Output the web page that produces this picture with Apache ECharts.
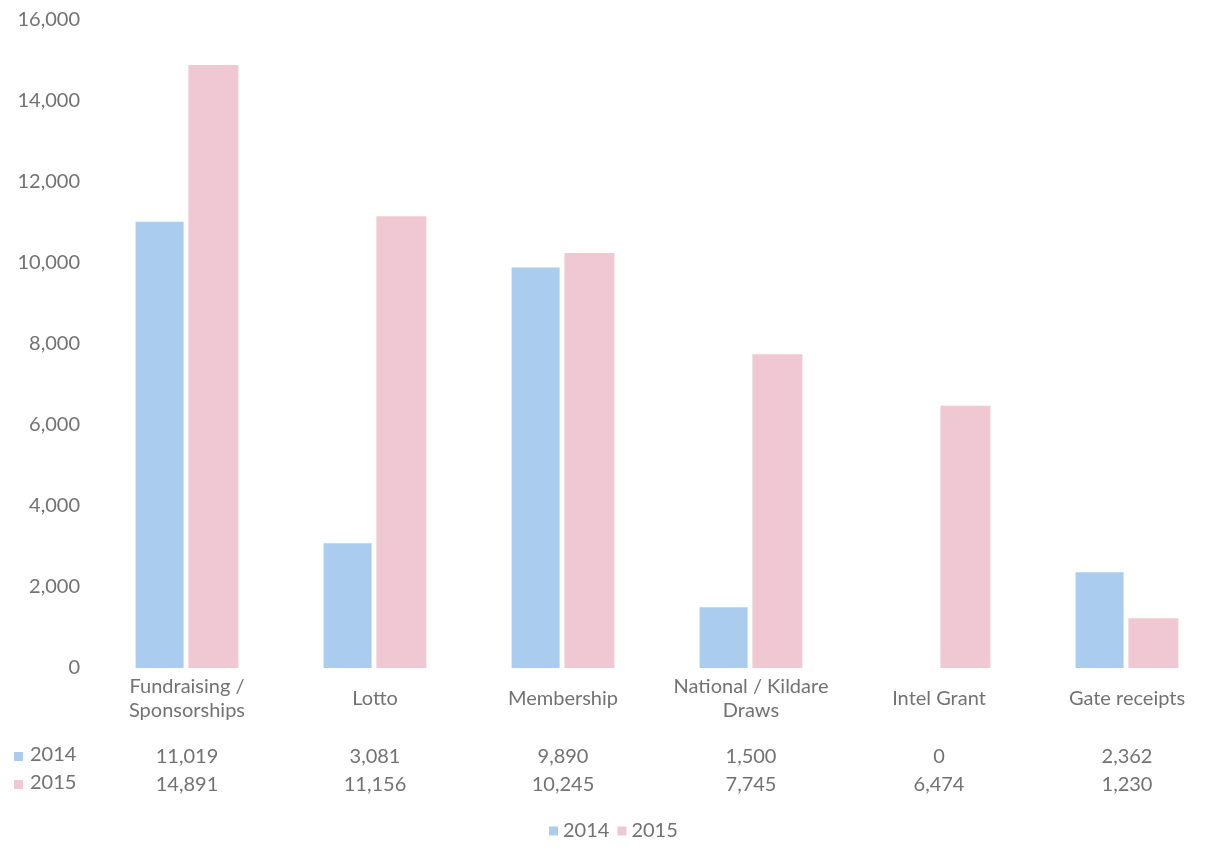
<!DOCTYPE html>
<html>
<head>
<meta charset="utf-8">
<script src="https://cdn.jsdelivr.net/npm/echarts@6/dist/echarts.min.js"></script>
<style>html,body{margin:0;padding:0;background:#fff;overflow:hidden;}#c{width:1221px;height:864px;}</style>
</head>
<body>
<div id="c"></div>
<script>
const categories = ['Fundraising /\nSponsorships', 'Lotto', 'Membership', 'National / Kildare\nDraws', 'Intel Grant', 'Gate receipts'];
const seriesNames = ['2014', '2015'];
const values2014 = [11019, 3081, 9890, 1500, 0, 2362];
const values2015 = [14891, 11156, 10245, 7745, 6474, 1230];
const yTicks = { min: 0, max: 16000, interval: 2000 };

const BLUE = '#aacdef';
const PINK = '#f0c8d4';
const TXT = '#727272';
const FONT = 'Lato';
const FS = 20;
const fmt = v => v.toLocaleString('en-US');

const chart = echarts.init(document.getElementById('c'));
const baseX = {
  type: 'category', data: categories, position: 'bottom',
  axisLine: { show: false }, axisTick: { show: false }, splitLine: { show: false }
};
chart.setOption({
  animation: false,
  textStyle: { fontFamily: FONT },
  grid: { left: 93, top: 20, width: 1128, bottom: 196 },
  legend: {
    data: seriesNames, bottom: 18, left: 544, icon: 'rect',
    itemWidth: 9, itemHeight: 9, itemGap: 8,
    textStyle: { color: TXT, fontSize: FS, fontFamily: FONT }
  },
  xAxis: [
    Object.assign({}, baseX, {
      axisLabel: { interval: 0, color: TXT, fontSize: FS, fontFamily: FONT, margin: 31, verticalAlign: 'middle', lineHeight: 24 }
    }),
    Object.assign({}, baseX, {
      axisLabel: { interval: 0, color: TXT, fontSize: FS, fontFamily: FONT, margin: 89, verticalAlign: 'middle',
        formatter: (v, i) => fmt(values2014[i]) }
    }),
    Object.assign({}, baseX, {
      axisLabel: { interval: 0, color: TXT, fontSize: FS, fontFamily: FONT, margin: 117, verticalAlign: 'middle',
        formatter: (v, i) => fmt(values2015[i]) }
    })
  ],
  yAxis: {
    type: 'value', min: yTicks.min, max: yTicks.max, interval: yTicks.interval,
    axisLine: { show: false }, axisTick: { show: false }, splitLine: { show: false },
    axisLabel: { color: TXT, fontSize: FS, fontFamily: FONT, margin: 13, formatter: v => fmt(v) }
  },
  graphic: [
    { type: 'rect', left: 14, top: 752, shape: { width: 9, height: 9 }, style: { fill: BLUE } },
    { type: 'text', left: 30, top: 745, style: { text: seriesNames[0], fill: TXT, fontSize: FS, fontFamily: FONT } },
    { type: 'rect', left: 14, top: 780, shape: { width: 9, height: 9 }, style: { fill: PINK } },
    { type: 'text', left: 30, top: 773, style: { text: seriesNames[1], fill: TXT, fontSize: FS, fontFamily: FONT } }
  ],
  series: [
    { name: seriesNames[0], type: 'bar', data: values2014, barWidth: 48, barGap: '10%', itemStyle: { color: BLUE } },
    { name: seriesNames[1], type: 'bar', data: values2015, barWidth: 50, barGap: '10%', itemStyle: { color: PINK } }
  ]
});
</script>
</body>
</html>
